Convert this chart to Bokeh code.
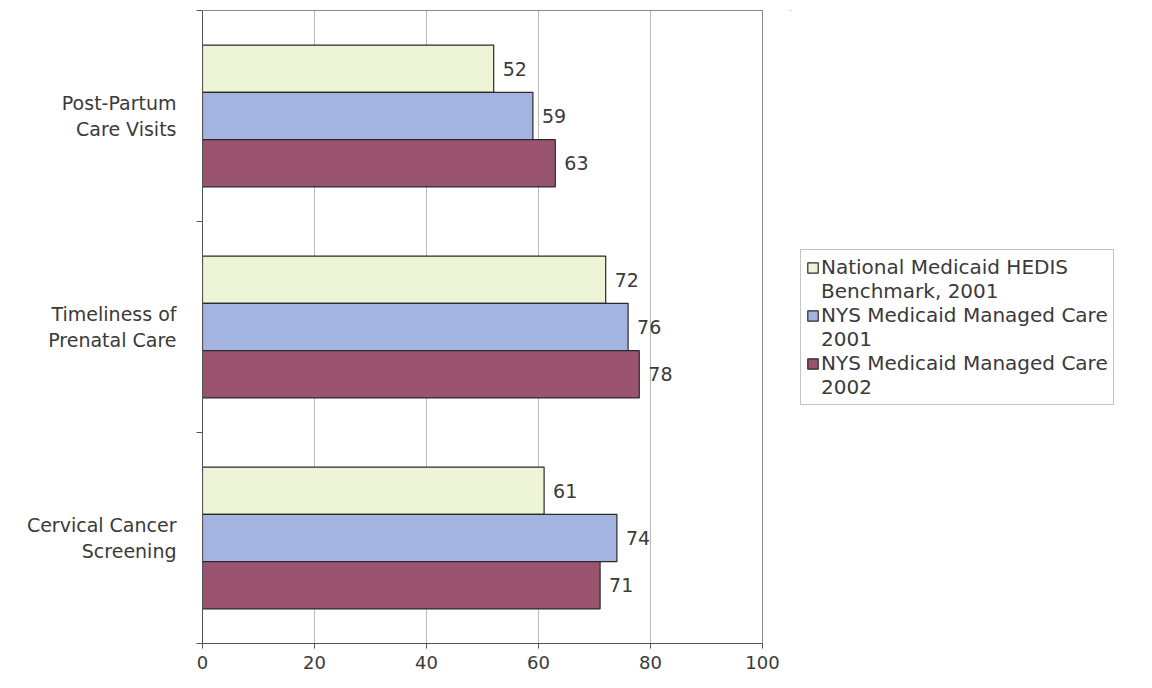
from bokeh.plotting import figure
from bokeh.layouts import row
from bokeh.models import Range1d, FixedTicker, Legend, LegendItem, ColumnDataSource
from bokeh.core.properties import value
from bokeh.embed import file_html
from bokeh.resources import INLINE

categories = ["Post-Partum\nCare Visits", "Timeliness of\nPrenatal Care", "Cervical Cancer\nScreening"]
series = ["National Medicaid HEDIS\nBenchmark, 2001", "NYS Medicaid Managed Care\n2001", "NYS Medicaid Managed Care\n2002"]
national_2001 = [52, 72, 61]
nys_2001 = [59, 76, 74]
nys_2002 = [63, 78, 71]
colors = ["#eef4d6", "#a4b4e0", "#9a5470"]
x_ticks = [0, 20, 40, 60, 80, 100]

FONT = "DejaVu Sans"
TXT = "#3a3a3a"

p = figure(width=790, height=672, output_backend="svg", toolbar_location=None,
           x_range=Range1d(0, 100), y_range=Range1d(0, 3))
p.min_border_left = 202
p.min_border_right = 28
p.min_border_top = 10
p.min_border_bottom = 29
p.outline_line_color = "#8a8a8a"
p.outline_line_width = 1
p.background_fill_color = "white"

centers = [2.5 - i for i in range(len(categories))]
bar_h = 0.224
offsets = [bar_h, 0.0, -bar_h]
all_vals = [national_2001, nys_2001, nys_2002]

for vals, col, off in zip(all_vals, colors, offsets):
    ys = [c + off for c in centers]
    src = ColumnDataSource(dict(y=ys, right=vals, lab=[str(v) for v in vals]))
    p.hbar(y="y", left=0, right="right", height=bar_h, source=src,
           fill_color=col, line_color="#2a2a2a", line_width=1.2)
    p.text(x="right", y="y", text="lab", source=src, x_offset=9,
           text_baseline="middle", text_align="left",
           text_font=value(FONT), text_font_size="19px", text_color=TXT)

# x axis
p.xaxis.ticker = FixedTicker(ticks=x_ticks)
p.xaxis.major_label_text_font = FONT
p.xaxis.major_label_text_font_size = "18px"
p.xaxis.major_label_text_color = TXT
p.xaxis.major_tick_out = 5
p.xaxis.major_tick_in = 0
p.xaxis.minor_tick_out = 0
p.xaxis.minor_tick_in = 0
p.xaxis.axis_line_color = "#555555"
p.xaxis.major_tick_line_color = "#555555"
p.xaxis.major_label_standoff = 7

# y axis with category labels
p.yaxis.ticker = FixedTicker(ticks=centers, minor_ticks=[0, 1, 2, 3])
p.yaxis.major_label_overrides = {c: cat for c, cat in zip(centers, categories)}
p.yaxis.major_label_text_font = FONT
p.yaxis.major_label_text_font_size = "19px"
p.yaxis.major_label_text_color = TXT
p.yaxis.major_label_text_line_height = 1.21
p.yaxis.major_label_standoff = 20
p.yaxis.major_tick_out = 0
p.yaxis.major_tick_in = 0
p.yaxis.minor_tick_out = 6
p.yaxis.minor_tick_in = 0
p.yaxis.minor_tick_line_color = "#555555"
p.yaxis.axis_line_color = "#555555"

p.xgrid.ticker = FixedTicker(ticks=x_ticks)
p.xgrid.grid_line_color = "#b8b8b8"
p.ygrid.grid_line_color = None

# legend panel
q = figure(width=346, height=672, output_backend="svg", toolbar_location=None,
           x_range=Range1d(0, 1), y_range=Range1d(0, 1),
           x_axis_type=None, y_axis_type=None, min_border=0)
q.outline_line_color = None
q.grid.visible = False

items = []
for s, col in zip(series, colors):
    lines = s.split("\n")
    # zero-size legend proxy
    r = q.hbar(y=[5], left=0, right=[0], height=0.0,
               fill_color=col, line_color="#2a2a2a", line_width=1.2)
    items.append(LegendItem(label=lines[0], renderers=[r]))
    blank = q.hbar(y=[5], left=0, right=[0], height=0.0,
                   fill_alpha=0, line_alpha=0)
    for extra in lines[1:]:
        items.append(LegendItem(label=extra, renderers=[blank]))

legend = Legend(items=items, location=(10, 238), orientation="vertical",
                label_text_font=FONT, label_text_font_size="20px",
                label_text_color=TXT,
                glyph_width=13, glyph_height=13, label_standoff=2,
                padding=5, spacing=0, margin=0,
                border_line_color="#8a8a8a", background_fill_color="white",
                background_fill_alpha=1.0)
q.add_layout(legend, "center")

layout = row(p, q)
open("out.html", "w").write(file_html(layout, INLINE))
